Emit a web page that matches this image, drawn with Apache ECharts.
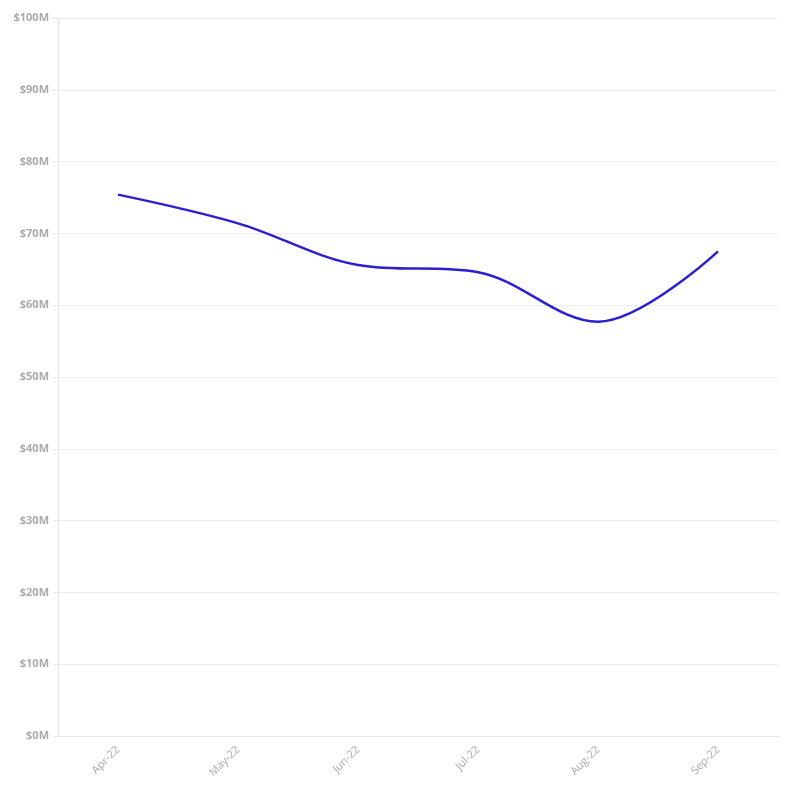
<!DOCTYPE html>
<html><head><meta charset="utf-8">
<script src="https://cdn.jsdelivr.net/npm/echarts@6/dist/echarts.min.js"></script>
<style>html,body{margin:0;padding:0;background:#fff}#c{width:796px;height:794px}</style>
</head><body><div id="c"></div>
<script>
const categories = ['Apr-22','May-22','Jun-22','Jul-22','Aug-22','Sep-22'];
const values = [75.4, 71.4, 65.6, 64.6, 57.7, 67.5];
const chart = echarts.init(document.getElementById('c'));
chart.setOption({
  animation: false,
  grid: {left: 58, right: 18, top: 18, bottom: 58, containLabel: false},
  xAxis: {
    type: 'category', data: categories, boundaryGap: true,
    axisLine: {lineStyle: {color: '#e4e4e4', width: 1}},
    axisTick: {alignWithLabel: true, length: 5, lineStyle: {color: '#e4e4e4'}},
    axisLabel: {rotate: 45, color: '#aaaaaa', fontFamily: 'Open Sans', fontSize: 11, margin: 12}
  },
  yAxis: {
    type: 'value', min: 0, max: 100, interval: 10,
    axisLine: {show: true, lineStyle: {color: '#e4e4e4'}},
    axisTick: {show: true, length: 5, lineStyle: {color: '#e4e4e4'}},
    splitLine: {lineStyle: {color: '#ececec'}},
    axisLabel: {formatter: v => '$' + v + 'M', color: '#aaaaaa', fontFamily: 'Open Sans', fontWeight: 'bold', fontSize: 11, margin: 9}
  },
  series: [{
    type: 'line', data: values, smooth: 0.35, showSymbol: false,
    lineStyle: {color: '#2a1fd1', width: 2.5}
  }]
});
</script></body></html>
